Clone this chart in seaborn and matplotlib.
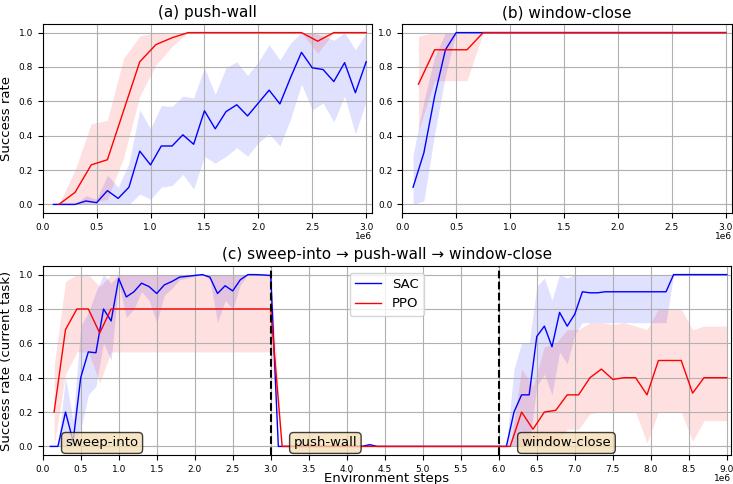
import numpy as np
import pandas as pd
import seaborn as sns
import matplotlib
matplotlib.use("Agg")
import matplotlib.pyplot as plt
from matplotlib.ticker import MultipleLocator, FuncFormatter

# evaluation grids (environment steps)
sac_steps_3m = np.arange(1, 31) * 1e5       # 0.1e6 ... 3.0e6
ppo_steps_3m = np.arange(1, 21) * 1.5e5     # 0.15e6 ... 3.0e6
sac_steps_9m = np.arange(1, 91) * 1e5       # 0.1e6 ... 9.0e6
ppo_steps_9m = np.arange(1, 61) * 1.5e5     # 0.15e6 ... 9.0e6

# (a) push-wall
sac_a = [0.0, 0.0, 0.0, 0.02, 0.01, 0.08, 0.035, 0.1, 0.31, 0.23,
         0.34, 0.34, 0.405, 0.35, 0.545, 0.44, 0.54, 0.58, 0.515, 0.59,
         0.665, 0.585, 0.74, 0.885, 0.795, 0.785, 0.715, 0.825, 0.65, 0.83]
sac_a_lo = [0.0, 0.0, 0.0, 0.0, 0.0, 0.0, 0.0, 0.0, 0.06, 0.03,
            0.1, 0.11, 0.175, 0.09, 0.28, 0.24, 0.28, 0.33, 0.28, 0.36,
            0.41, 0.34, 0.5, 0.7, 0.55, 0.59, 0.48, 0.63, 0.41, 0.6]
sac_a_hi = [0.0, 0.0, 0.0, 0.05, 0.03, 0.17, 0.1, 0.24, 0.55, 0.44,
            0.575, 0.57, 0.63, 0.62, 0.795, 0.64, 0.795, 0.83, 0.75, 0.83,
            0.93, 0.84, 0.94, 1.0, 1.0, 0.98, 0.955, 1.0, 0.9, 1.0]
ppo_a = [0.0, 0.07, 0.23, 0.26, 0.545, 0.83, 0.93, 0.97, 1.0, 1.0,
         1.0, 1.0, 1.0, 1.0, 1.0, 1.0, 0.95, 1.0, 1.0, 1.0]
ppo_a_lo = [0.0, 0.0, 0.01, 0.03, 0.27, 0.63, 0.81, 0.92, 1.0, 1.0,
            1.0, 1.0, 1.0, 1.0, 1.0, 1.0, 0.88, 1.0, 1.0, 1.0]
ppo_a_hi = [0.0, 0.2, 0.47, 0.49, 0.85, 0.98, 1.0, 1.0, 1.0, 1.0,
            1.0, 1.0, 1.0, 1.0, 1.0, 1.0, 1.0, 1.0, 1.0, 1.0]

# (b) window-close
sac_b = [0.1, 0.3, 0.63, 0.9, 1.0, 1.0, 1.0, 1.0, 1.0, 1.0,
         1.0, 1.0, 1.0, 1.0, 1.0, 1.0, 1.0, 1.0, 1.0, 1.0,
         1.0, 1.0, 1.0, 1.0, 1.0, 1.0, 1.0, 1.0, 1.0, 1.0]
sac_b_lo = [0.0, 0.02, 0.41, 0.75, 1.0, 1.0, 1.0, 1.0, 1.0, 1.0,
            1.0, 1.0, 1.0, 1.0, 1.0, 1.0, 1.0, 1.0, 1.0, 1.0,
            1.0, 1.0, 1.0, 1.0, 1.0, 1.0, 1.0, 1.0, 1.0, 1.0]
sac_b_hi = [0.29, 0.6, 0.86, 1.0, 1.0, 1.0, 1.0, 1.0, 1.0, 1.0,
            1.0, 1.0, 1.0, 1.0, 1.0, 1.0, 1.0, 1.0, 1.0, 1.0,
            1.0, 1.0, 1.0, 1.0, 1.0, 1.0, 1.0, 1.0, 1.0, 1.0]
ppo_b = [0.7, 0.9, 0.9, 0.9, 1.0, 1.0, 1.0, 1.0, 1.0, 1.0,
         1.0, 1.0, 1.0, 1.0, 1.0, 1.0, 1.0, 1.0, 1.0, 1.0]
ppo_b_lo = [0.43, 0.72, 0.72, 0.72, 1.0, 1.0, 1.0, 1.0, 1.0, 1.0,
            1.0, 1.0, 1.0, 1.0, 1.0, 1.0, 1.0, 1.0, 1.0, 1.0]
ppo_b_hi = [0.98, 1.0, 1.0, 1.0, 1.0, 1.0, 1.0, 1.0, 1.0, 1.0,
            1.0, 1.0, 1.0, 1.0, 1.0, 1.0, 1.0, 1.0, 1.0, 1.0]

# (c) sweep-into -> push-wall -> window-close, per task segment
sac_c_sweep = [0.0, 0.0, 0.2, 0.03, 0.4, 0.55, 0.545, 0.8, 0.73, 0.977,
               0.87, 0.9, 0.95, 0.93, 0.89, 0.94, 0.96, 0.985, 0.99, 0.995,
               1.0, 0.985, 0.89, 0.935, 0.905, 0.97, 1.0, 1.0, 0.998, 0.995]
sac_c_sweep_lo = [0.0, 0.0, 0.0, 0.0, 0.1, 0.3, 0.35, 0.6, 0.5, 0.95,
                  0.75, 0.8, 0.9, 0.85, 0.72, 0.88, 0.92, 0.97, 0.98, 0.99,
                  1.0, 0.97, 0.72, 0.85, 0.8, 0.94, 1.0, 1.0, 0.995, 0.99]
sac_c_sweep_hi = [0.0, 0.0, 0.4, 0.15, 0.7, 0.78, 0.9, 1.0, 0.95, 1.0,
                  1.0, 1.0, 1.0, 1.0, 1.0, 1.0, 1.0, 1.0, 1.0, 1.0,
                  1.0, 1.0, 1.0, 1.0, 1.0, 1.0, 1.0, 1.0, 1.0, 1.0]
sac_c_push = [0.0, 0.0, 0.0, 0.0, 0.0, 0.0, 0.0, 0.0, 0.0, 0.0,
              0.0, 0.0, 0.01, 0.0, 0.0, 0.0, 0.0, 0.0, 0.0, 0.0,
              0.0, 0.0, 0.0, 0.0, 0.0, 0.0, 0.0, 0.0, 0.0, 0.0]
sac_c_push_lo = [0.0, 0.0, 0.0, 0.0, 0.0, 0.0, 0.0, 0.0, 0.0, 0.0,
                 0.0, 0.0, 0.0, 0.0, 0.0, 0.0, 0.0, 0.0, 0.0, 0.0,
                 0.0, 0.0, 0.0, 0.0, 0.0, 0.0, 0.0, 0.0, 0.0, 0.0]
sac_c_push_hi = [0.0, 0.0, 0.0, 0.0, 0.0, 0.0, 0.0, 0.0, 0.0, 0.0,
                 0.0, 0.0, 0.02, 0.0, 0.0, 0.0, 0.0, 0.0, 0.0, 0.0,
                 0.0, 0.0, 0.0, 0.0, 0.0, 0.0, 0.0, 0.0, 0.0, 0.0]
sac_c_window = [0.0, 0.2, 0.3, 0.3, 0.64, 0.7, 0.58, 0.78, 0.7, 0.77,
                0.9, 0.894, 0.894, 0.9, 0.9, 0.9, 0.9, 0.9, 0.9, 0.9,
                0.9, 0.9, 1.0, 1.0, 1.0, 1.0, 1.0, 1.0, 1.0, 1.0]
sac_c_window_lo = [0.0, 0.0, 0.0, 0.0, 0.35, 0.42, 0.3, 0.55, 0.48, 0.65,
                   0.72, 0.72, 0.72, 0.72, 0.72, 0.72, 0.72, 0.72, 0.72, 0.72,
                   0.72, 0.72, 1.0, 1.0, 1.0, 1.0, 1.0, 1.0, 1.0, 1.0]
sac_c_window_hi = [0.0, 0.45, 0.6, 0.6, 0.93, 0.98, 0.85, 1.0, 0.98, 1.0,
                   1.0, 1.0, 1.0, 1.0, 1.0, 1.0, 1.0, 1.0, 1.0, 1.0,
                   1.0, 1.0, 1.0, 1.0, 1.0, 1.0, 1.0, 1.0, 1.0, 1.0]

ppo_c_sweep = [0.2, 0.68, 0.8, 0.8, 0.66, 0.8, 0.8, 0.8, 0.8, 0.8,
               0.8, 0.8, 0.8, 0.8, 0.8, 0.8, 0.8, 0.8, 0.8, 0.8]
ppo_c_sweep_lo = [0.0, 0.42, 0.55, 0.55, 0.37, 0.55, 0.55, 0.55, 0.55, 0.55,
                  0.55, 0.55, 0.55, 0.55, 0.55, 0.55, 0.55, 0.55, 0.55, 0.55]
ppo_c_sweep_hi = [0.47, 0.96, 1.0, 1.0, 0.93, 1.0, 1.0, 1.0, 1.0, 1.0,
                  1.0, 1.0, 1.0, 1.0, 1.0, 1.0, 1.0, 1.0, 1.0, 1.0]
ppo_c_push = [0.0, 0.0, 0.0, 0.0, 0.0, 0.0, 0.0, 0.0, 0.0, 0.0,
              0.0, 0.0, 0.0, 0.0, 0.0, 0.0, 0.0, 0.0, 0.0, 0.0]
ppo_c_window = [0.0, 0.2, 0.1, 0.2, 0.21, 0.3, 0.3, 0.4, 0.45, 0.39,
                0.4, 0.4, 0.3, 0.5, 0.5, 0.5, 0.31, 0.4, 0.4, 0.4]
ppo_c_window_lo = [0.0, 0.0, 0.0, 0.0, 0.02, 0.1, 0.1, 0.19, 0.2, 0.2,
                   0.2, 0.2, 0.02, 0.2, 0.2, 0.2, 0.03, 0.15, 0.15, 0.15]
ppo_c_window_hi = [0.0, 0.45, 0.35, 0.58, 0.6, 0.68, 0.68, 0.72, 0.72, 0.71,
                   0.72, 0.7, 0.68, 0.8, 0.8, 0.8, 0.68, 0.7, 0.7, 0.7]

task_switches = [3e6, 6e6]
task_names = ["sweep-into", "push-wall", "window-close"]
task_starts = [0.0, 3e6, 6e6]

colors = {"SAC": "blue", "PPO": "red"}

plt.rcParams["xtick.labelsize"] = 6.5
plt.rcParams["ytick.labelsize"] = 6.5


def draw_panel(ax, sac_x, sac, sac_lo, sac_hi, ppo_x, ppo, ppo_lo, ppo_hi, legend=False):
    ax.fill_between(sac_x, sac_lo, sac_hi, color=colors["SAC"], alpha=0.12, linewidth=0)
    ax.fill_between(ppo_x, ppo_lo, ppo_hi, color=colors["PPO"], alpha=0.12, linewidth=0)
    df = pd.concat([
        pd.DataFrame({"step": sac_x, "success": sac, "algo": "SAC"}),
        pd.DataFrame({"step": ppo_x, "success": ppo, "algo": "PPO"}),
    ], ignore_index=True)
    sns.lineplot(data=df, x="step", y="success", hue="algo", hue_order=["SAC", "PPO"],
                 palette=colors, estimator=None, linewidth=1.0, legend=legend, ax=ax)
    ax.grid(True, color="#b0b0b0", linewidth=0.8)
    ax.set_ylim(-0.05, 1.05)
    ax.set_xlabel("")
    ax.set_ylabel("")
    # ticks in units of 1e6, multiplier written under the right end
    ax.xaxis.set_major_locator(MultipleLocator(0.5e6))
    ax.xaxis.set_major_formatter(FuncFormatter(lambda v, p: f"{v / 1e6:.1f}"))


fig = plt.figure(figsize=(7.33, 4.84), dpi=100)
W, H = 733, 484
ax_a = fig.add_axes([42.7 / W, (H - 213) / H, 329.4 / W, 189 / H])
ax_b = fig.add_axes([402.3 / W, (H - 213) / H, 329.4 / W, 189 / H])
ax_c = fig.add_axes([42.7 / W, (H - 455) / H, 688.3 / W, 189 / H])

draw_panel(ax_a, sac_steps_3m, sac_a, sac_a_lo, sac_a_hi, ppo_steps_3m, ppo_a, ppo_a_lo, ppo_a_hi)
ax_a.set_xlim(0, 3.055e6)
ax_a.set_title("(a) push-wall", fontsize=11, pad=5)
ax_a.set_ylabel("Success rate", fontsize=9.5)
ax_a.text(1.0, -0.1, "1e6", transform=ax_a.transAxes, ha="right", va="top", fontsize=6.5)

draw_panel(ax_b, sac_steps_3m, sac_b, sac_b_lo, sac_b_hi, ppo_steps_3m, ppo_b, ppo_b_lo, ppo_b_hi)
ax_b.set_xlim(0, 3.055e6)
ax_b.set_title("(b) window-close", fontsize=11, pad=5)
ax_b.text(1.0, -0.1, "1e6", transform=ax_b.transAxes, ha="right", va="top", fontsize=6.5)

sac_c = sac_c_sweep + sac_c_push + sac_c_window
sac_c_lo = sac_c_sweep_lo + sac_c_push_lo + sac_c_window_lo
sac_c_hi = sac_c_sweep_hi + sac_c_push_hi + sac_c_window_hi
ppo_c = ppo_c_sweep + ppo_c_push + ppo_c_window
ppo_c_lo = ppo_c_sweep_lo + ppo_c_push + ppo_c_window_lo
ppo_c_hi = ppo_c_sweep_hi + ppo_c_push + ppo_c_window_hi

draw_panel(ax_c, sac_steps_9m, sac_c, sac_c_lo, sac_c_hi, ppo_steps_9m, ppo_c, ppo_c_lo, ppo_c_hi,
           legend=True)
ax_c.set_xlim(0, 9.055e6)
for s in task_switches:
    ax_c.axvline(s, color="black", linestyle="--", linewidth=1.5)
for name, start in zip(task_names, task_starts):
    ax_c.text(start + 0.3e6, 0.02, name, fontsize=9.5, ha="left", va="center",
              bbox=dict(boxstyle="round", facecolor="wheat", alpha=0.75))
ax_c.set_title("(c) sweep-into \u2192 push-wall \u2192 window-close", fontsize=11, pad=5)
ax_c.set_xlabel("Environment steps", fontsize=9.5, labelpad=-1)
ax_c.set_ylabel("Success rate (current task)", fontsize=9.5)
ax_c.text(1.0, -0.1, "1e6", transform=ax_c.transAxes, ha="right", va="top", fontsize=6.5)
sns.move_legend(ax_c, "upper center", title=None, fontsize=9.5)

fig.savefig("out.png", dpi=100)
